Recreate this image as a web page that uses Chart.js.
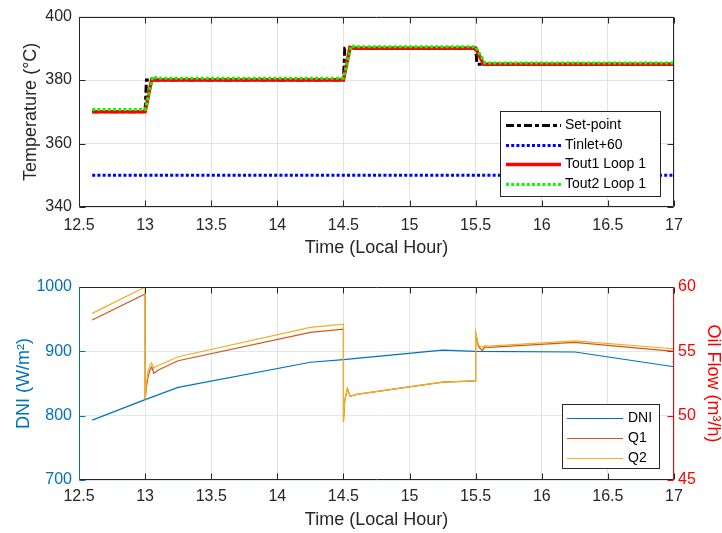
<!DOCTYPE html>
<html>
<head>
<meta charset="utf-8">
<script src="https://cdn.jsdelivr.net/npm/chart.js@4.4.1/dist/chart.umd.min.js"></script>
<style>
html, body { margin: 0; padding: 0; background: #fff; }
#wrap { position: relative; width: 722px; height: 533px; }
canvas { position: absolute; left: 0; }
</style>
</head>
<body>
<div id="wrap">
  <canvas id="tempChart" width="722" height="262" style="top:0"></canvas>
  <canvas id="flowChart" width="722" height="271" style="top:262px"></canvas>
</div>
<script>
// top panel: temperatures
const setTime = [12.6, 13.0, 13.01, 14.5, 14.51, 15.5, 15.51, 17];
const setTemp = [370, 370, 380, 380, 390, 390, 385, 385];
const inletTime = [12.6, 17];
const inletTemp = [350, 350];
const tout1Time = [12.6, 13.0, 13.05, 13.07, 14.5, 14.55, 14.58, 15.5, 15.56, 17];
const tout1Temp = [370, 370, 380.2, 380, 380, 390.3, 390, 390, 385, 385];
const tout2Time = [12.6, 13.0, 13.06, 13.09, 14.5, 14.56, 14.6, 15.5, 15.57, 17];
const tout2Temp = [370.7, 370.7, 381.2, 380.6, 380.6, 390.8, 390.5, 390.5, 385.4, 385.4];

// bottom panel: DNI and oil flows
const dniTime = [12.6, 13.0, 13.25, 14.25, 14.5, 15.25, 15.5, 16.25, 17];
const dniVals = [793, 825, 844, 883, 887, 902, 900, 899, 876];
const qTime = [12.6, 13.0, 13.0, 13.01, 13.02, 13.035, 13.05, 13.065, 13.08, 13.1, 13.25, 14.25, 14.5, 14.5,
               14.51, 14.53, 14.55, 14.6, 15.25, 15.5, 15.5, 15.52, 15.55, 15.57, 15.6, 16.25, 17];
const q1Vals = [57.43, 59.45, 51.27, 52.2, 52.9, 53.5, 53.8, 53.3, 53.4, 53.55, 54.27, 56.47, 56.73, 49.53,
                51.2, 52.1, 51.5, 51.65, 52.6, 52.7, 56.4, 55.4, 55.05, 55.35, 55.3, 55.7, 55.0];
const q2Vals = [57.95, 60.0, 51.27, 52.5, 53.3, 53.9, 54.1, 53.7, 53.8, 53.9, 54.58, 56.86, 57.12, 49.53,
                51.2, 52.1, 51.5, 51.65, 52.6, 52.7, 56.5, 55.5, 55.3, 55.45, 55.4, 55.82, 55.2];

const timeTicks = [12.5, 17, 0.5];   // min, max, step

const txt = '#262626';
const gridGray = '#e3e3e3';
const blue = '#0072BD', red = '#FF0000';

Chart.defaults.font.family = '"Liberation Sans", Arial, Helvetica, sans-serif';
Chart.defaults.color = txt;

const pts = (xs, ys) => xs.map((x, i) => ({ x: x, y: ys[i] }));
const plain = v => String(v);

// MATLAB-like box with inward ticks
const frame = {
  id: 'frame',
  afterDatasetsDraw(chart, args, o) {
    const { ctx, chartArea: a, scales } = chart;
    const L = Math.round(a.left) + 0.5, R = Math.round(a.right) - 0.5;
    const T = Math.round(a.top) + 0.5, B = Math.round(a.bottom) - 0.5;
    const seg = (c, x0, y0, x1, y1) => {
      ctx.strokeStyle = c; ctx.beginPath(); ctx.moveTo(x0, y0); ctx.lineTo(x1, y1); ctx.stroke();
    };
    ctx.save();
    ctx.lineWidth = 1;
    scales.x.ticks.forEach(t => {
      const px = Math.round(scales.x.getPixelForValue(t.value)) + 0.5;
      seg(txt, px, B, px, B - 6);
      seg(txt, px, T, px, T + 6);
    });
    scales.y.ticks.forEach(t => {
      const py = Math.round(scales.y.getPixelForValue(t.value)) + 0.5;
      seg(o.left, L, py, L + 6, py);
      if (!scales.y1) seg(o.right, R, py, R - 6, py);
    });
    if (scales.y1) scales.y1.ticks.forEach(t => {
      const py = Math.round(scales.y1.getPixelForValue(t.value)) + 0.5;
      seg(o.right, R, py, R - 6, py);
    });
    seg(txt, L, T, R, T);
    seg(txt, L, B, R, B);
    seg(o.left, L, T, L, B);
    seg(o.right, R, T, R, B);
    ctx.restore();
  }
};

// legend box drawn inside the axes
const boxLegend = {
  id: 'boxLegend',
  afterDraw(chart, args, o) {
    const ctx = chart.ctx;
    ctx.save();
    ctx.fillStyle = '#fff';
    ctx.fillRect(o.x, o.y, o.w, o.h);
    ctx.strokeStyle = txt; ctx.lineWidth = 1;
    ctx.strokeRect(o.x + 0.5, o.y + 0.5, o.w, o.h);
    ctx.font = '14px "Liberation Sans", Arial, sans-serif';
    ctx.textBaseline = 'middle';
    chart.data.datasets.forEach((ds, i) => {
      const y = Math.round(o.y + o.first + i * o.step) + 0.5;
      ctx.strokeStyle = ds.borderColor;
      ctx.lineWidth = ds.borderWidth;
      ctx.setLineDash(ds.borderDash || []);
      ctx.beginPath(); ctx.moveTo(o.x + o.line0, y); ctx.lineTo(o.x + o.line1, y); ctx.stroke();
      ctx.setLineDash([]);
      ctx.fillStyle = '#000';
      ctx.fillText(ds.label, o.x + o.textX, y);
    });
    ctx.restore();
  }
};

const xScale = (h, tickPad, titlePad) => ({
  type: 'linear', min: timeTicks[0], max: timeTicks[1],
  ticks: { stepSize: timeTicks[2], font: { size: 16 }, padding: tickPad, maxRotation: 0, autoSkip: false, color: txt, callback: plain },
  grid: { color: gridGray, drawTicks: false },
  border: { display: false },
  title: { display: true, text: 'Time (Local Hour)', font: { size: 18 }, color: txt, padding: { top: 0, bottom: titlePad } },
  afterFit: s => { s.height = h; }
});

const common = {
  responsive: false,
  animation: false,
  elements: { point: { radius: 0 }, line: { tension: 0, borderCapStyle: 'butt' } },
};

new Chart(document.getElementById('tempChart'), {
  type: 'line',
  data: {
    datasets: [
      { label: 'Set-point', data: pts(setTime, setTemp), borderColor: '#000', borderWidth: 3, borderDash: [8, 3, 4, 3], order: 3 },
      { label: 'Tinlet+60', data: pts(inletTime, inletTemp), borderColor: '#0000FF', borderWidth: 3, borderDash: [3, 2.2], order: 2 },
      { label: 'Tout1 Loop 1', data: pts(tout1Time, tout1Temp), borderColor: red, borderWidth: 3.5, order: 1 },
      { label: 'Tout2 Loop 1', data: pts(tout2Time, tout2Temp), borderColor: '#00FF00', borderWidth: 3, borderDash: [3, 2.2], order: 0 }
    ]
  },
  options: Object.assign({}, common, {
    layout: { padding: { top: 13, right: 48, left: 0, bottom: 0 } },
    scales: {
      x: xScale(55, 9, 3),
      y: {
        min: 340, max: 400,
        ticks: { stepSize: 20, font: { size: 16 }, padding: 7, color: txt, callback: plain },
        grid: { color: gridGray, drawTicks: false },
        border: { display: false },
        title: { display: true, text: 'Temperature (°C)', font: { size: 18 }, color: txt, padding: { top: 20, bottom: 0 } },
        afterFit: s => { s.width = 79; }
      }
    },
    plugins: {
      legend: { display: false },
      tooltip: { enabled: false },
      frame: { left: txt, right: txt },
      boxLegend: { x: 500, y: 111, w: 160, h: 85, first: 14, step: 19.7, line0: 6, line1: 61, textX: 65 }
    }
  }),
  plugins: [frame, boxLegend]
});

new Chart(document.getElementById('flowChart'), {
  type: 'line',
  data: {
    datasets: [
      { label: 'DNI', data: pts(dniTime, dniVals), borderColor: blue, borderWidth: 1.2, yAxisID: 'y', order: 2 },
      { label: 'Q1', data: pts(qTime, q1Vals), borderColor: '#D95319', borderWidth: 1.2, yAxisID: 'y1', order: 1 },
      { label: 'Q2', data: pts(qTime, q2Vals), borderColor: '#EDB120', borderWidth: 1.2, yAxisID: 'y1', order: 0 }
    ]
  },
  options: Object.assign({}, common, {
    layout: { padding: { top: 25, right: 0, left: 0, bottom: 0 } },
    scales: {
      x: xScale(53, 7, 2),
      y: {
        position: 'left', min: 700, max: 1000,
        ticks: { stepSize: 100, font: { size: 16 }, padding: 7, color: blue, callback: plain },
        grid: { color: '#d9eaf5', drawTicks: false },
        border: { display: false },
        title: { display: true, text: 'DNI (W/m²)', font: { size: 18 }, color: blue, padding: { top: 13, bottom: 0 } },
        afterFit: s => { s.width = 79; }
      },
      y1: {
        position: 'right', min: 45, max: 60,
        ticks: { stepSize: 5, font: { size: 16 }, padding: 4, color: red, callback: plain },
        grid: { display: false, drawTicks: false },
        border: { display: false },
        title: { display: true, text: 'Oil Flow (m³/h)', font: { size: 18 }, color: red, padding: { top: -2, bottom: 0 } },
        afterFit: s => { s.width = 48; }
      }
    },
    plugins: {
      legend: { display: false },
      tooltip: { enabled: false },
      frame: { left: blue, right: red },
      boxLegend: { x: 562, y: 142, w: 97, h: 64, first: 14, step: 20, line0: 5, line1: 61, textX: 66 }
    }
  }),
  plugins: [frame, boxLegend]
});
</script>
</body>
</html>
